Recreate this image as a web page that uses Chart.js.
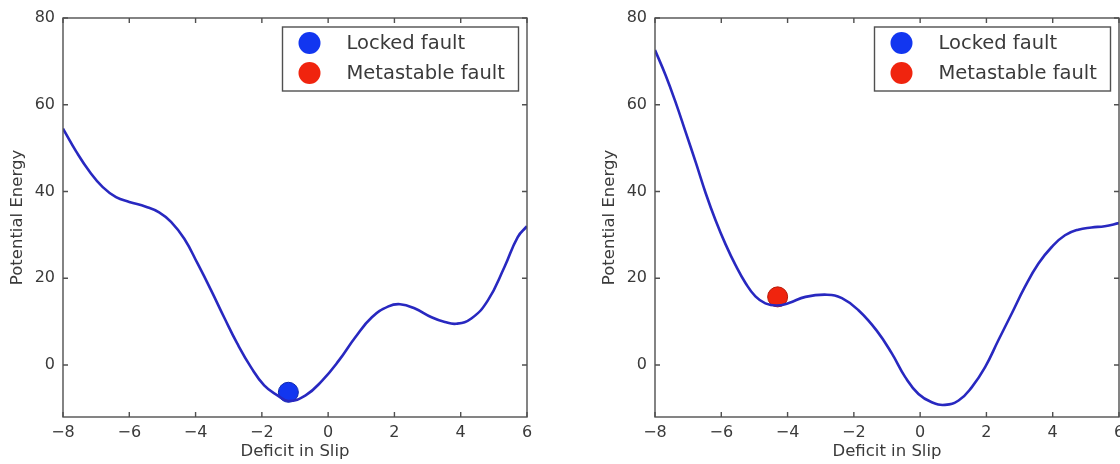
<!DOCTYPE html>
<html lang="en">
  <head>
    <meta charset="UTF-8" />
    <meta name="viewport" content="width=device-width, initial-scale=1.0" />
    <title>Potential Energy</title>
    <script src="https://cdn.jsdelivr.net/npm/chart.js"></script>
    <style>
      html,
      body {
        margin: 0;
        padding: 0;
        background: #fff;
        width: 1120px;
        height: 464px;
        overflow: hidden;
      }
      .chart-box {
        position: absolute;
        top: 0;
        width: 560px;
        height: 464px;
      }
      #box-left {
        left: 0;
      }
      #box-right {
        left: 592px;
      }
    </style>
  </head>
  <body>
    <div class="chart-box" id="box-left">
      <canvas id="leftChart" width="560" height="464"></canvas>
    </div>
    <div class="chart-box" id="box-right">
      <canvas id="rightChart" width="560" height="464"></canvas>
    </div>
    <script>
      const xTicks = [-8, -6, -4, -2, 0, 2, 4, 6];
      const yTicks = [0, 20, 40, 60, 80];
      const legendLabels = ["Locked fault", "Metastable fault"];

      // left panel: locked fault
      const leftSlip = [
        -8, -7.6, -7.2, -6.8, -6.4, -6.0, -5.5, -5.1, -4.74, -4.34, -3.94,
        -3.53, -3.14, -2.74, -2.33, -1.93, -1.53, -1.2, -0.68, -0.18, 0.32,
        0.82, 1.32, 1.82, 2.17, 2.62, 3.12, 3.52, 3.87, 4.32, 4.82, 5.32,
        5.72, 6,
      ];
      const leftEnergy = [
        54.5, 49.2, 44.6, 41.0, 38.7, 37.6, 36.5, 35.2, 33.0, 29.1, 23.4,
        17.2, 11.0, 4.9, -0.5, -4.7, -7.0, -8.3, -7.0, -3.6, 1.0, 6.4, 11.0,
        13.5, 14.0, 13.0, 11.0, 9.9, 9.5, 10.7, 14.9, 22.6, 29.5, 32.0,
      ];
      const lockedSlip = [-1.2];
      const lockedEnergy = [-6.3];

      // right panel: metastable fault
      const rightSlip = [
        -8, -7.68, -7.38, -7.08, -6.77, -6.47, -6.17, -5.87, -5.57, -5.27,
        -4.97, -4.67, -4.32, -3.96, -3.46, -2.81, -2.36, -1.86, -1.3, -0.85,
        -0.45, -0.05, 0.35, 0.75, 1.16, 1.56, 1.96, 2.36, 2.76, 3.16, 3.57,
        3.97, 4.37, 4.77, 5.17, 5.57, 6,
      ];
      const rightEnergy = [
        72.6, 66.8, 60.6, 53.8, 46.7, 39.6, 33.3, 27.8, 23.0, 18.9, 15.8,
        14.2, 13.7, 14.3, 15.7, 16.2, 15.4, 12.6, 7.8, 2.6, -2.8, -6.7, -8.6,
        -9.2, -8.2, -5.1, -0.5, 5.7, 11.8, 18.0, 23.4, 27.2, 29.9, 31.2, 31.7,
        32.0, 32.7,
      ];
      const metastableSlip = [-4.3];
      const metastableEnergy = [15.7];

      const textColor = "#3a3a3a";
      const lockedColor = "#1236f0";
      const metastableColor = "#f0240e";

      Chart.defaults.font.family = "'DejaVu Sans', sans-serif";

      const toPoints = function (xs, ys) {
        return xs.map(function (x, i) {
          return { x: x, y: ys[i] };
        });
      };
      const minusLabel = function (v) {
        return v < 0 ? "\u2212" + Math.abs(v) : String(v);
      };

      // box around the plot, inward ticks, legend in the upper right corner
      const framePlugin = {
        id: "frame",
        afterDatasetsDraw(chart) {
          const ctx = chart.ctx;
          const a = chart.chartArea;
          const xs = chart.scales.x;
          const ys = chart.scales.y;
          ctx.save();
          ctx.strokeStyle = "#505050";
          ctx.lineWidth = 1.4;
          ctx.strokeRect(a.left, a.top, a.right - a.left, a.bottom - a.top);
          ctx.beginPath();
          xs.ticks.forEach(function (t) {
            const px = xs.getPixelForValue(t.value);
            ctx.moveTo(px, a.bottom);
            ctx.lineTo(px, a.bottom - 5);
            ctx.moveTo(px, a.top);
            ctx.lineTo(px, a.top + 5);
          });
          ys.ticks.forEach(function (t) {
            const py = ys.getPixelForValue(t.value);
            ctx.moveTo(a.left, py);
            ctx.lineTo(a.left + 5, py);
            ctx.moveTo(a.right, py);
            ctx.lineTo(a.right - 5, py);
          });
          ctx.stroke();

          const boxW = 236;
          const boxH = 64;
          const bx = a.right - 8.5 - boxW;
          const by = a.top + 9;
          ctx.fillStyle = "#fff";
          ctx.fillRect(bx, by, boxW, boxH);
          ctx.strokeStyle = "#505050";
          ctx.lineWidth = 1.4;
          ctx.strokeRect(bx, by, boxW, boxH);
          ctx.font = "19.5px 'DejaVu Sans', sans-serif";
          ctx.textBaseline = "middle";
          ctx.textAlign = "left";
          [1, 2].forEach(function (di, row) {
            const ds = chart.data.datasets[di];
            const cy = by + 16 + row * 30;
            ctx.beginPath();
            ctx.arc(bx + 27, cy, 11, 0, Math.PI * 2);
            ctx.fillStyle = ds.backgroundColor;
            ctx.fill();
            ctx.fillStyle = textColor;
            ctx.fillText(ds.label, bx + 64, cy + 1);
          });
          ctx.restore();
        },
      };

      const makeChart = function (id, slip, energy, lockedPts, metaPts) {
        return new Chart(document.getElementById(id), {
          type: "scatter",
          data: {
            datasets: [
              {
                label: "curve",
                data: toPoints(slip, energy),
                showLine: true,
                borderColor: "#2828c0",
                borderWidth: 2.6,
                pointRadius: 0,
                tension: 0.45,
              },
              {
                label: legendLabels[0],
                data: lockedPts,
                backgroundColor: lockedColor,
                borderColor: "#0a25b0",
                borderWidth: 1,
                pointRadius: 10,
              },
              {
                label: legendLabels[1],
                data: metaPts,
                backgroundColor: metastableColor,
                borderColor: "#b81a08",
                borderWidth: 1,
                pointRadius: 10,
              },
            ],
          },
          options: {
            responsive: false,
            animation: false,
            layout: { padding: { top: 18, right: 33, left: 0, bottom: 0 } },
            plugins: {
              legend: { display: false },
              tooltip: { enabled: false },
            },
            scales: {
              x: {
                type: "linear",
                min: -8,
                max: 6,
                afterBuildTicks: function (s) {
                  s.ticks = xTicks.map(function (v) {
                    return { value: v };
                  });
                },
                afterFit: function (s) {
                  s.height = 47;
                },
                grid: { display: false, drawTicks: false },
                border: { display: false },
                ticks: {
                  padding: 6,
                  color: textColor,
                  font: { size: 16 },
                  maxRotation: 0,
                  callback: minusLabel,
                },
                title: {
                  display: true,
                  text: "Deficit in Slip",
                  color: textColor,
                  font: { size: 16.5 },
                  padding: { top: 0, bottom: 2 },
                },
              },
              y: {
                type: "linear",
                min: -12,
                max: 80,
                afterBuildTicks: function (s) {
                  s.ticks = yTicks.map(function (v) {
                    return { value: v };
                  });
                },
                afterFit: function (s) {
                  s.width = 63;
                },
                grid: { display: false, drawTicks: false },
                border: { display: false },
                ticks: {
                  padding: 8,
                  color: textColor,
                  font: { size: 16 },
                  callback: minusLabel,
                },
                title: {
                  display: true,
                  text: "Potential Energy",
                  color: textColor,
                  font: { size: 16.5 },
                  padding: { top: 8, bottom: 0 },
                },
              },
            },
          },
          plugins: [framePlugin],
        });
      };

      makeChart(
        "leftChart",
        leftSlip,
        leftEnergy,
        toPoints(lockedSlip, lockedEnergy),
        []
      );
      makeChart(
        "rightChart",
        rightSlip,
        rightEnergy,
        [],
        toPoints(metastableSlip, metastableEnergy)
      );
    </script>
  </body>
</html>
